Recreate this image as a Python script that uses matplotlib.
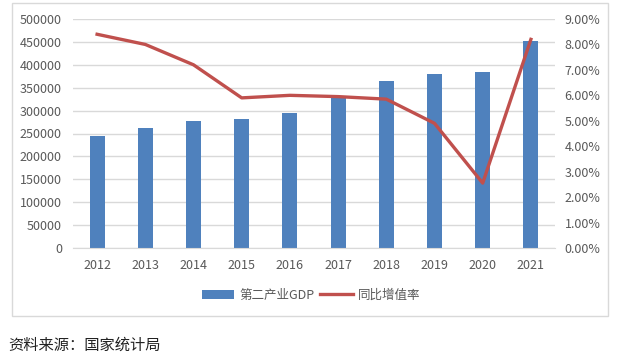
import matplotlib.pyplot as plt
from matplotlib.patches import Rectangle
from matplotlib.ticker import FuncFormatter

plt.rcParams['font.family'] = ['Noto Sans CJK SC', 'DejaVu Sans']

years = ['2012', '2013', '2014', '2015', '2016', '2017', '2018', '2019', '2020', '2021']
gdp = [244643, 261956, 277282, 281338, 295427, 331580, 364835, 380671, 383562, 450904]
growth = [8.4, 8.0, 7.2, 5.9, 6.0, 5.95, 5.85, 4.9, 2.55, 8.2]

blue = '#4F81BD'
red = '#C0504D'
txt = '#595959'

fig = plt.figure(figsize=(6.32, 3.57), dpi=100)

# chart frame
fig.patches.append(Rectangle((12 / 632, 1 - 316 / 357), 596 / 632, 313 / 357,
                             transform=fig.transFigure, fill=False,
                             edgecolor='#D9D9D9', linewidth=1))

ax = fig.add_axes([73 / 632, 1 - 248 / 357, 482 / 632, 229 / 357])
x = range(len(years))
bars = ax.bar(x, gdp, width=0.31, color=blue, zorder=2, label='第二产业GDP')
ax.set_xlim(-0.5, len(years) - 0.5)
ax.set_ylim(0, 500000)
ax.set_yticks(range(0, 500001, 50000))
ax.grid(axis='y', color='#D9D9D9', linewidth=1, zorder=0)
ax.set_xticks(list(x))
ax.set_xticklabels(years)
for s in ax.spines.values():
    s.set_visible(False)
ax.spines['bottom'].set_visible(True)
ax.spines['bottom'].set_color('#D9D9D9')
ax.tick_params(length=0, labelsize=9, colors=txt)
ax.tick_params(axis='x', pad=8)
ax.tick_params(axis='y', pad=8)

ax2 = ax.twinx()
line, = ax2.plot(list(x), growth, color=red, linewidth=2.4, zorder=3, label='同比增值率')
ax2.set_ylim(0, 9)
ax2.set_yticks(range(0, 10))
ax2.yaxis.set_major_formatter(FuncFormatter(lambda v, p: f'{v:.2f}%'))
for s in ax2.spines.values():
    s.set_visible(False)
ax2.tick_params(length=0, labelsize=9, colors=txt, pad=7)

fig.legend([bars, line], ['第二产业GDP', '同比增值率'], loc='center',
           bbox_to_anchor=(311 / 632, 1 - 295 / 357), ncol=2, frameon=False,
           fontsize=9, labelcolor=txt, handlelength=2.6, columnspacing=0.5,
           handletextpad=0.4)

fig.text(8 / 632, 1 - 345 / 357, '资料来源：国家统计局', fontsize=11,
         color='#222222', va='center', ha='left')

fig.savefig('out.png', dpi=100)
